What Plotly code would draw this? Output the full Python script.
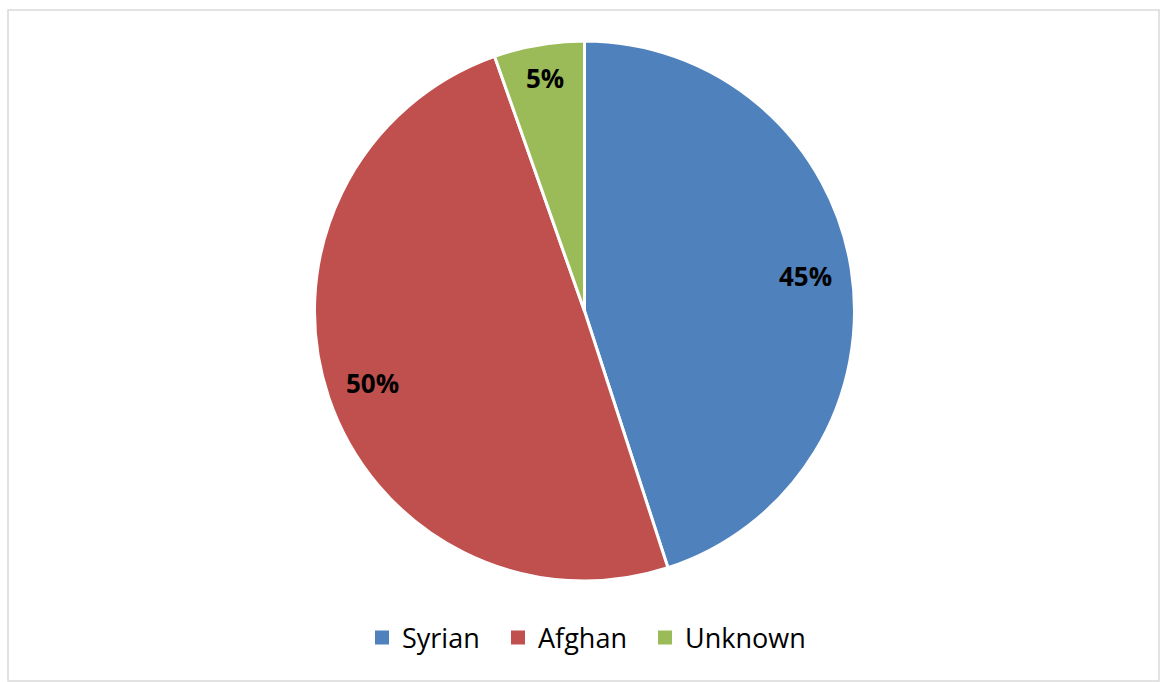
import math
import plotly.graph_objects as go

categories = ["Syrian", "Afghan", "Unknown"]
values = [45.0, 49.6, 5.4]
colors = ["#4F81BD", "#C0504D", "#9BBB59"]

W, H = 1160, 682
# plot area in pixels
L, R_, T, B = 9, 0, 41, 101
pw = W - L - R_
ph = H - T - B

fig = go.Figure(go.Pie(
    labels=categories,
    values=values,
    sort=False,
    direction="clockwise",
    rotation=0,
    marker=dict(colors=colors, line=dict(color="white", width=3)),
    textinfo="none",
    hoverinfo="label+percent",
    showlegend=False,
))

def px_to_paper_x(x):
    return (x - L) / pw

def px_to_paper_y(y):
    return (H - B - y) / ph

# legend entries, one legend box per entry so spacing can follow the reference
legend_ids = ["legend", "legend2", "legend3"]
legend_left_px = [362, 498, 645]
for name, col, lid in zip(categories, colors, legend_ids):
    fig.add_trace(go.Scatter(x=[None], y=[None], mode="markers", name=name,
                             marker=dict(symbol="square", size=14, color=col),
                             showlegend=True, hoverinfo="skip", legend=lid))

legend_style = dict(orientation="h", xanchor="left",
                    y=px_to_paper_y(638), yanchor="middle",
                    font=dict(family="Open Sans", size=27, color="black"),
                    itemsizing="trace", bgcolor="rgba(0,0,0,0)")
legend_layout = {}
for lid, lx in zip(legend_ids, legend_left_px):
    legend_layout[lid] = dict(legend_style, x=px_to_paper_x(lx))

# percentage labels placed along each slice's mid-angle
total = sum(values)
cum = 0.0
rx = (ph / 2) / pw
ry = 0.5
for v in values:
    frac = v / total
    mid = (cum + frac / 2) * 2 * math.pi
    cum += frac
    rf = 0.875 if frac < 0.1 else 0.83
    ax = 0.5 + rf * rx * math.sin(mid)
    ay = 0.5 + rf * ry * math.cos(mid)
    fig.add_annotation(x=ax, y=ay, xref="paper", yref="paper",
                       text="<b>{:.0%}</b>".format(frac), showarrow=False,
                       xanchor="center", yanchor="middle",
                       font=dict(family="Open Sans", size=26, color="black"))

fig.add_shape(type="rect", xref="paper", yref="paper",
              x0=px_to_paper_x(8), x1=px_to_paper_x(1159),
              y0=px_to_paper_y(681), y1=px_to_paper_y(10),
              line=dict(color="#d9d9d9", width=1.5), fillcolor="rgba(0,0,0,0)")

fig.update_layout(
    width=W, height=H,
    margin=dict(l=L, r=R_, t=T, b=B),
    paper_bgcolor="white",
    plot_bgcolor="white",
    xaxis=dict(visible=False),
    yaxis=dict(visible=False),
    showlegend=True,
    **legend_layout,
)

fig.write_html("out.html")
